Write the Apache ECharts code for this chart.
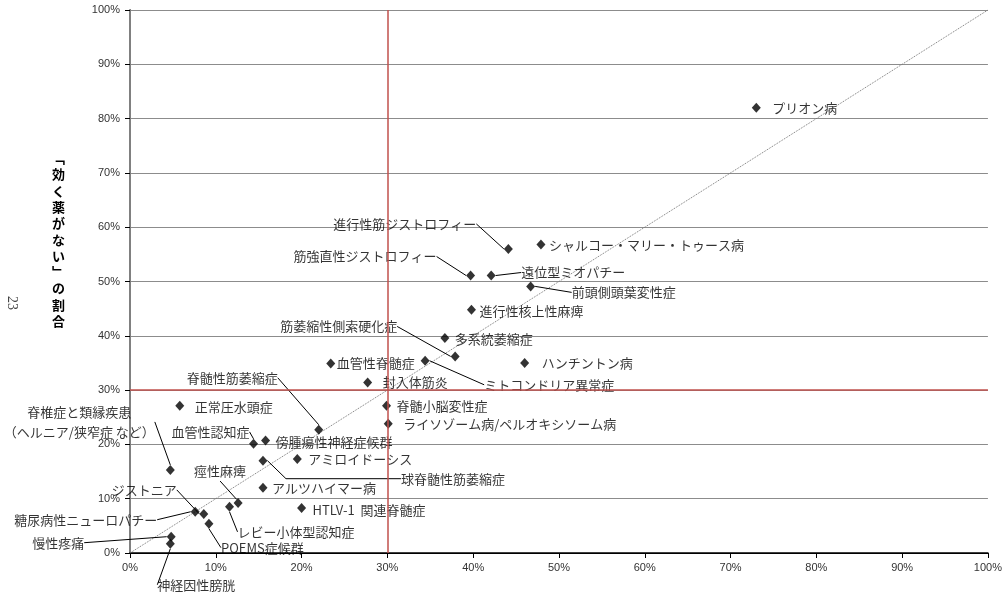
<!DOCTYPE html>
<html>
<head>
<meta charset="utf-8">
<script src="https://cdn.jsdelivr.net/npm/echarts@6/dist/echarts.min.js"></script>
<style>
  html, body { margin: 0; padding: 0; background: #fff; }
  #myChart { width: 1005px; height: 597px; }
</style>
</head>
<body>
<div id="myChart"></div>
<script>
  // 疾患名
  const names = [
    'プリオン病', '進行性筋ジストロフィー', 'シャルコー・マリー・トゥース病', '筋強直性ジストロフィー',
    '遠位型ミオパチー', '前頭側頭葉変性症', '進行性核上性麻痺', '多系統萎縮症',
    '筋萎縮性側索硬化症', '血管性脊髄症', 'ミトコンドリア異常症', 'ハンチントン病',
    '封入体筋炎', '脊髄小脳変性症', 'ライソゾーム病/ペルオキシソーム病', '正常圧水頭症',
    '脊髄性筋萎縮症', '血管性認知症', '傍腫瘍性神経症候群', 'アミロイドーシス',
    '球脊髄性筋萎縮症', 'アルツハイマー病', 'HTLV-1  関連脊髄症', '痙性麻痺',
    'レビー小体型認知症', '脊椎症と類縁疾患\n（ヘルニア/狭窄症 など）', 'ジストニア', '糖尿病性ニューロパチー',
    'POEMS症候群', '慢性疼痛', '神経因性膀胱'
  ]
  // 横軸の値 (%)
  const xValues = [
    73.0, 44.1, 47.9, 39.7,
    42.1, 46.7, 39.8, 36.7,
    37.9, 23.4, 34.4, 46.0,
    27.7, 29.9, 30.1, 5.8,
    22.0, 14.4, 15.8, 19.5,
    15.5, 15.5, 20.0, 12.6,
    11.6, 4.7, 8.6, 7.6,
    9.2, 4.8, 4.7
  ]
  // 「効く薬がない」の割合 (%)
  const yValues = [
    82.0, 56.0, 56.8, 51.1,
    51.1, 49.1, 44.8, 39.6,
    36.2, 34.9, 35.4, 35.0,
    31.4, 27.1, 23.8, 27.1,
    22.7, 20.1, 20.7, 17.3,
    17.0, 12.0, 8.3, 9.2,
    8.5, 15.3, 7.2, 7.6,
    5.4, 3.0, 1.7
  ]
  const axisTicks = [0, 10, 20, 30, 40, 50, 60, 70, 80, 90, 100]
  const diagonal = [[0, 0], [100, 100]]
  const threshold = 30
  const yTitle = ['﹁', '効', 'く', '薬', 'が', 'な', 'い', '﹂', 'の', '割', '合']

  // ラベル配置 [align, dx, dy, 引出線, length2]
  const labelPlace = [
    ['left', 16, 0], ['right', -32, -25, true], ['left', 8, 0], ['right', -34, -19, true],
    ['left', 30, -3, true], ['left', 41, 6, true], ['left', 8, 1], ['left', 10, 1],
    ['right', -58, -30, true], ['left', 6, 0], ['left', 59, 24, true], ['left', 17, 0],
    ['left', 15, 0], ['left', 10, 0], ['left', 15, 0], ['left', 15, 1],
    ['right', -41, -52, true], ['right', -4, -12, true], ['left', 10, 1], ['left', 11, 0],
    ['left', 138, 18, true, 115], ['left', 9, 0], ['left', 11, 2], ['center', -18, -32, true],
    ['left', 8, 25, true], ['center', -91, -48, true], ['right', -27, -24, true], ['right', -38, 8, true],
    ['left', 12, 24, true], ['right', -87, 6, true], ['center', 26, 41, true]
  ]

  const jpFont = '"Noto Sans CJK JP", "Noto Sans", sans-serif'
  const numFont = '"Liberation Sans Narrow", "Liberation Sans", sans-serif'

  const scatterData = names.map((n, i) => {
    const p = labelPlace[i]
    return {
      name: n,
      value: [xValues[i], yValues[i]],
      label: {
        position: ['50%', '50%'],
        offset: [p[1], p[2]],
        align: p[0],
        verticalAlign: 'middle'
      },
      labelLine: {
        show: !!p[3],
        length2: p[4] || 0,
        lineStyle: { color: '#000', width: 1 }
      }
    }
  })

  const myChart = echarts.init(document.getElementById('myChart'))
  const option = {
    animation: false,
    backgroundColor: '#fff',
    grid: { left: 130, right: 15, top: 10, bottom: 44 },
    xAxis: [
      {
        type: 'value', min: 0, max: 100, interval: 10,
        axisLine: { show: true, lineStyle: { color: '#000', width: 1 } },
        axisTick: { show: true, length: 5, lineStyle: { color: '#000' } },
        axisLabel: {
          margin: 9, color: '#333', fontSize: 11, fontFamily: numFont,
          formatter: v => axisTicks.includes(v) ? v + '%' : ''
        },
        splitLine: { show: false }
      },
      {
        type: 'value', min: 0, max: 100, position: 'top',
        axisLine: { show: true, lineStyle: { color: '#000', width: 1.5 } },
        axisTick: { show: false }, axisLabel: { show: false }, splitLine: { show: false }
      }
    ],
    yAxis: [
      {
        type: 'value', min: 0, max: 100, interval: 10,
        axisLine: { show: true, lineStyle: { color: '#000', width: 1 } },
        axisTick: { show: true, length: 5, lineStyle: { color: '#000' } },
        axisLabel: {
          margin: 10, color: '#333', fontSize: 11, fontFamily: numFont,
          formatter: '{value}%'
        },
        splitLine: { show: true, lineStyle: { color: '#8c8c8c', width: 1 } }
      },
      {
        type: 'value', min: 0, max: 100, position: 'right',
        axisLine: { show: true, lineStyle: { color: '#808080', width: 2 } },
        axisTick: { show: false }, axisLabel: { show: false }, splitLine: { show: false }
      }
    ],
    graphic: [
      {
        type: 'text', left: 52, top: 150, silent: true,
        style: {
          text: yTitle.join('\n'), fill: '#000', fontSize: 13, fontWeight: 'bold',
          fontFamily: jpFont, lineHeight: 16.3, align: 'center'
        }
      },
      {
        type: 'text', x: 12, y: 303, rotation: -Math.PI / 2, silent: true,
        style: {
          text: '23', fill: '#444', fontSize: 14, fontFamily: '"Liberation Serif", serif',
          align: 'center', verticalAlign: 'middle'
        }
      }
    ],
    series: [
      {
        name: 'diagonal',
        type: 'line',
        data: diagonal,
        symbol: 'none',
        silent: true,
        z: 1,
        lineStyle: { color: '#777', width: 1, type: 'dotted' }
      },
      {
        name: '疾患',
        type: 'scatter',
        data: scatterData,
        symbol: 'diamond',
        symbolSize: [9, 10],
        z: 3,
        itemStyle: { color: '#000' },
        label: {
          show: true,
          formatter: '{b}',
          color: '#000',
          fontSize: 13,
          fontFamily: jpFont,
          lineHeight: 20
        },
        markLine: {
          silent: true,
          symbol: 'none',
          label: { show: false },
          lineStyle: { color: '#c0504d', width: 1.5, type: 'solid' },
          data: [{ xAxis: threshold }, { yAxis: threshold }]
        }
      }
    ]
  }
  myChart.setOption(option)
</script>
</body>
</html>
